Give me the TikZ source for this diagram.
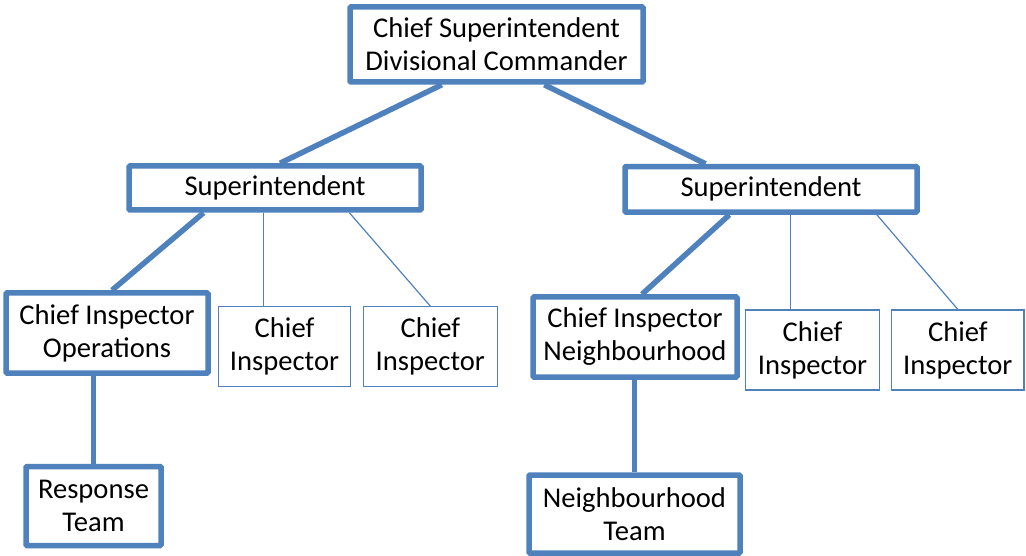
\documentclass[tikz,border=0pt]{standalone}
\usepackage{fontspec}
\setmainfont{Carlito}
\usepackage{tikz}
\usetikzlibrary{backgrounds,calc}
\definecolor{officeblue}{RGB}{79,129,189}

\begin{document}
\begin{tikzpicture}[x=1pt, y=-1pt,
	rank/.style={draw=officeblue, line width=5.5pt, rounded corners=1pt, fill=white, text=black, align=center, inner sep=0pt, font=\fontsize{28.6}{33}\selectfont},
	thinrank/.style={draw=officeblue, line width=1.2pt, fill=white, text=black, align=center, inner sep=0pt, font=\fontsize{28.6}{33}\selectfont},
	strongLine/.style={line width=5.5pt, color=officeblue},
	weakLine/.style={line width=1.2pt, color=officeblue}
	]
	\useasboundingbox (0,0) rectangle (1026,556);

	% top of the tree
	\node[rank, minimum width=293pt, minimum height=75pt] (chief) at (496.5,44.5) {Chief Superintendent\\Divisional Commander};

	% superintendents
	\node[rank, minimum width=292pt, minimum height=44pt] (supL) at (275,188) {Superintendent};
	\node[rank, minimum width=292pt, minimum height=45.5pt] (supR) at (771,189.3) {Superintendent};

	% chief inspectors, left side
	\node[rank, minimum width=202pt, minimum height=80pt] (ops) at (107,333) {Chief Inspector\\Operations};
	\node[thinrank, minimum width=132.4pt, minimum height=80pt] (ciA) at (284.5,346.7) {Chief\\Inspector};
	\node[thinrank, minimum width=134pt, minimum height=80pt] (ciB) at (430.3,346.7) {Chief\\Inspector};

	% chief inspectors, right side
	\node[rank, minimum width=204pt, minimum height=80pt] (nbh) at (635,337) {Chief Inspector\\Neighbourhood};
	\node[thinrank, minimum width=133.6pt, minimum height=80pt] (ciC) at (812.5,350) {Chief\\Inspector};
	\node[thinrank, minimum width=132.3pt, minimum height=80pt] (ciD) at (957.8,350) {Chief\\Inspector};

	% teams
	\node[rank, minimum width=135pt, minimum height=79pt] (resp) at (93.5,506) {Response\\Team};
	\node[rank, minimum width=211pt, minimum height=78pt] (nteam) at (634.5,514) {Neighbourhood\\Team};

	\begin{scope}[on background layer]
	\draw [strongLine] ($(chief.south west)!0.317!(chief.south east)$) -- ([xshift=5pt]supL.north);
	\draw [strongLine] ($(chief.south west)!0.66!(chief.south east)$) -- ($(supR.north west)!0.28!(supR.north east)$);

	\draw [strongLine] ($(supL.south west)!0.26!(supL.south east)$) -- ([xshift=5pt]ops.north);
	\coordinate (supLa) at ($(supL.south west)!0.46!(supL.south east)$);
	\draw [weakLine] (supLa) -- (supLa |- ciA.north);
	\draw [weakLine] ($(supL.south west)!0.75!(supL.south east)$) -- (ciB.north);

	\draw [strongLine] ($(supR.south west)!0.36!(supR.south east)$) -- ([xshift=7pt]nbh.north);
	\coordinate (supRa) at ($(supR.south west)!0.565!(supR.south east)$);
	\draw [weakLine] (supRa) -- (supRa |- ciC.north);
	\draw [weakLine] ($(supR.south west)!0.856!(supR.south east)$) -- (ciD.north);

	\draw [strongLine] (resp.north |- ops.south) -- (resp.north);
	\draw [strongLine] (nteam.north |- nbh.south) -- (nteam.north);
	\end{scope}
\end{tikzpicture}
\end{document}
